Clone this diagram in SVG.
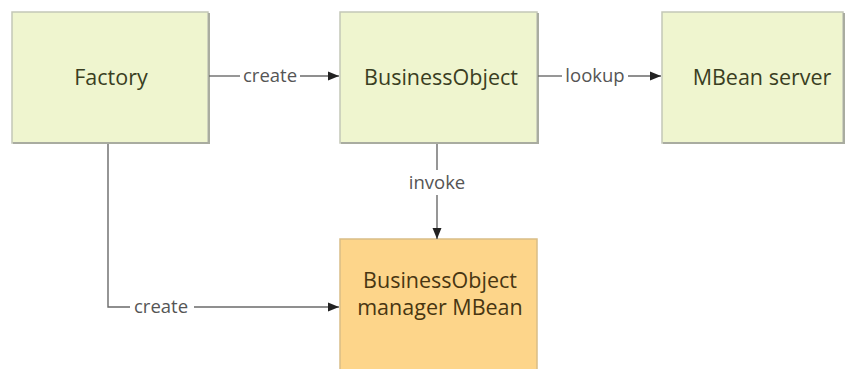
<svg xmlns="http://www.w3.org/2000/svg" width="848" height="369" viewBox="0 0 848 369">
  <defs>
    <marker id="arrow" markerWidth="11" markerHeight="10" refX="11" refY="5" orient="auto" markerUnits="userSpaceOnUse">
      <path d="M0,0.5 L11,5 L0,9.5 Z" fill="#222"/>
    </marker>
  </defs>
  <style>
    .box { stroke: #c4c7b8; stroke-width: 1.5; }
    .shadow { fill: none; stroke: #a9aca0; stroke-width: 2; }
    .green { fill: #eff5cf; }
    .orange { fill: #fdd58a; stroke: #d9bd86; }
    .ntext { font-family: "Open Sans", "Liberation Sans", sans-serif; font-size: 21.5px; font-weight: 500; fill: #3a3e22; text-anchor: middle; }
    .otext { fill: #483612; }
    .label { font-family: "Open Sans", "Liberation Sans", sans-serif; font-size: 18.5px; font-weight: 450; fill: #555555; text-anchor: middle; }
    .wire { fill: none; stroke: #6a6a6a; stroke-width: 1.4; }
  </style>
  <rect width="848" height="369" fill="#ffffff"/>

  <g id="factory">
    <rect class="box green" x="12" y="12" width="196" height="131"/>
    <path class="shadow" d="M13,143 H209 V13"/>
    <text class="ntext" x="111" y="85">Factory</text>
  </g>

  <g id="business-object">
    <rect class="box green" x="340" y="12" width="197" height="131"/>
    <path class="shadow" d="M341,143 H538 V13"/>
    <text class="ntext" x="441" y="85">BusinessObject</text>
  </g>

  <g id="mbean-server">
    <rect class="box green" x="662" y="12" width="181" height="131"/>
    <path class="shadow" d="M663,143 H844 V13"/>
    <text class="ntext" x="762" y="85">MBean server</text>
  </g>

  <g id="manager-mbean">
    <rect class="box orange" x="340" y="239" width="197" height="135"/>
    <text class="ntext otext" x="440" y="288">BusinessObject</text>
    <text class="ntext otext" x="440" y="315">manager MBean</text>
  </g>

  <g id="connectors">
    <!-- Factory to BusinessObject -->
    <path class="wire" d="M209,76 H240"/>
    <path class="wire" d="M300,76 H339" marker-end="url(#arrow)"/>
    <text class="label" x="270" y="82">create</text>

    <!-- BusinessObject to MBean server -->
    <path class="wire" d="M538,76 H562"/>
    <path class="wire" d="M628,76 H661" marker-end="url(#arrow)"/>
    <text class="label" x="595" y="82">lookup</text>

    <!-- BusinessObject to manager MBean -->
    <path class="wire" d="M437,144 V170"/>
    <path class="wire" d="M437,195 V239" marker-end="url(#arrow)"/>
    <text class="label" x="437" y="189">invoke</text>

    <!-- Factory to manager MBean -->
    <path class="wire" d="M108,144 V307 H130"/>
    <path class="wire" d="M194,307 H339" marker-end="url(#arrow)"/>
    <text class="label" x="161" y="313">create</text>
  </g>
</svg>
